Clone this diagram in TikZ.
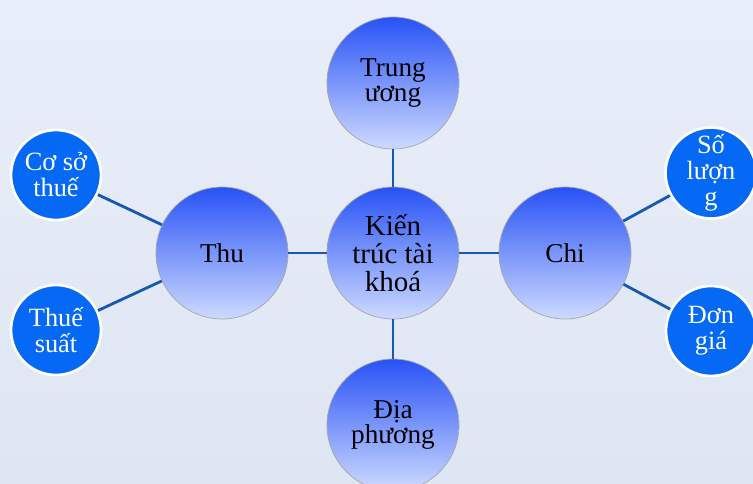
\documentclass[tikz,border=0pt]{standalone}
\usepackage{fontspec}
\setmainfont{Liberation Serif}
\usepackage{tikz}

\begin{document}
\begin{tikzpicture}[
      x = 0.02cm, y = -0.02cm,
      bigcirc/.style = {
        circle, draw = gray!70, thin, minimum size = 2.64cm, inner sep = 0pt,
        top color = {rgb,255:red,40;green,82;blue,246},
        bottom color = {rgb,255:red,205;green,218;blue,255},
        align = center, text = black,
        font = \fontsize{15.5}{14.6}\selectfont},
      smallcirc/.style = {
        circle, draw = white, line width = 1.5pt, minimum size = 1.8cm,
        inner sep = 0pt, fill = {rgb,255:red,5;green,105;blue,245},
        align = center, text = white,
        font = \fontsize{15}{14.8}\selectfont},
      link/.style = {line width = 1.6pt, draw = {rgb,255:red,22;green,88;blue,178}}
      ]
    \useasboundingbox (0,0) rectangle (753,483);
    \clip (0,0) rectangle (753,483);
    \fill[top color = {rgb,255:red,232;green,238;blue,249},
          bottom color = {rgb,255:red,222;green,230;blue,243}]
      (0,0) rectangle (753,483);
    \node[bigcirc, font = \fontsize{16.5}{16}\selectfont]
      (kt) at (393,253) {Kiến\\trúc tài\\khoá}; % centre
    \node[bigcirc] (tw) at (393,83) {Trung\\ương};
    \node[bigcirc] (dp) at (393,425) {Địa\\phương};
    \node[bigcirc] (thu) at (222,253) {Thu};
    \node[bigcirc] (chi) at (565,253) {Chi};
    \node[smallcirc] (coso) at (56,175) {Cơ sở\\thuế};
    \node[smallcirc] (thuesuat) at (56,330) {Thuế\\suất};
    \node[smallcirc] (soluong) at (711,173) {Số\\lượn\\g};
    \node[smallcirc] (dongia) at (711,331) {Đơn\\giá};
    \draw[link] (kt)--(tw);
    \draw[link] (kt)--(dp);
    \draw[link] (kt)--(thu);
    \draw[link] (kt)--(chi);
    \draw[link] (thu)--(coso);
    \draw[link] (thu)--(thuesuat);
    \draw[link] (chi)--(soluong);
    \draw[link] (chi)--(dongia);
  \end{tikzpicture}
\end{document}
